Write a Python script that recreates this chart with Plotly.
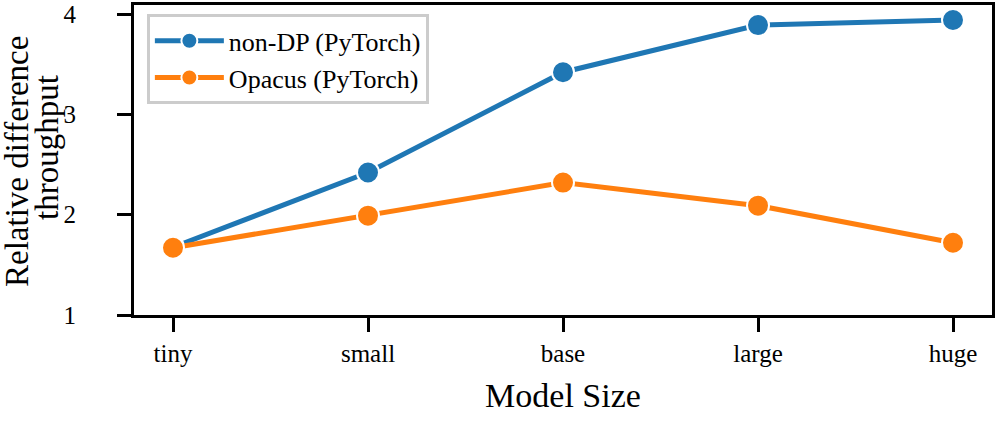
import plotly.graph_objects as go

categories = ["tiny", "small", "base", "large", "huge"]
non_dp = [1.675, 2.42, 3.42, 3.89, 3.94]
opacus = [1.67, 1.99, 2.32, 2.09, 1.72]
series_names = ["non-DP (PyTorch)", "Opacus (PyTorch)"]
colors = ["#1f77b4", "#ff7f0e"]
y_ticks = [1, 2, 3, 4]
y_title_lines = ["Relative difference", "throughput"]

FONT = "Liberation Serif"

fig = go.Figure()
for name, vals, col in zip(series_names, [non_dp, opacus], colors):
    fig.add_trace(go.Scatter(
        x=list(range(len(categories))), y=vals, name=name,
        mode="lines+markers",
        line=dict(color=col, width=5),
        marker=dict(color=col, size=22, line=dict(color="white", width=2)),
    ))

# y-axis title as two rotated lines
for txt, xs, yp in zip(y_title_lines, [-117, -87], [0.4935, 0.5387]):
    fig.add_annotation(
        text=txt, xref="paper", yref="paper", x=0, y=yp, xshift=xs,
        xanchor="center", yanchor="middle", textangle=-90, showarrow=False,
        font=dict(family=FONT, size=33, color="black"),
    )

fig.update_layout(
    width=997, height=422,
    margin=dict(l=134, r=5, t=5, b=107, autoexpand=False),
    paper_bgcolor="white", plot_bgcolor="white",
    font=dict(family=FONT, color="black", size=25),
    showlegend=True,
    legend=dict(
        x=0.015, y=0.97, xanchor="left", yanchor="top",
        bgcolor="rgba(255,255,255,0.85)", bordercolor="#cccccc", borderwidth=3,
        font=dict(family=FONT, size=26, color="black"),
        itemwidth=69,
    ),
)
fig.update_xaxes(
    range=[-0.2, 4.2], automargin=False,
    tickmode="array", tickvals=list(range(len(categories))), ticktext=categories,
    showgrid=False, zeroline=False,
    showline=True, mirror=True, linecolor="black", linewidth=3,
    ticks="outside", ticklen=14, tickwidth=3, tickcolor="black",
    tickfont=dict(family=FONT, size=25),
    title=dict(text="Model Size", font=dict(family=FONT, size=34), standoff=18),
)
fig.update_yaxes(
    range=[1, 4.09], automargin=False,
    tickmode="array", tickvals=y_ticks, ticktext=[str(v) for v in y_ticks],
    showgrid=False, zeroline=False,
    showline=True, mirror=True, linecolor="black", linewidth=3,
    ticks="outside", ticklen=14, tickwidth=3, tickcolor="black",
    tickfont=dict(family=FONT, size=25),
    ticklabelstandoff=36,
)

fig.write_html("out.html", config={"displayModeBar": False},
               post_script="document.body.style.margin='0';document.body.style.padding='0';")
